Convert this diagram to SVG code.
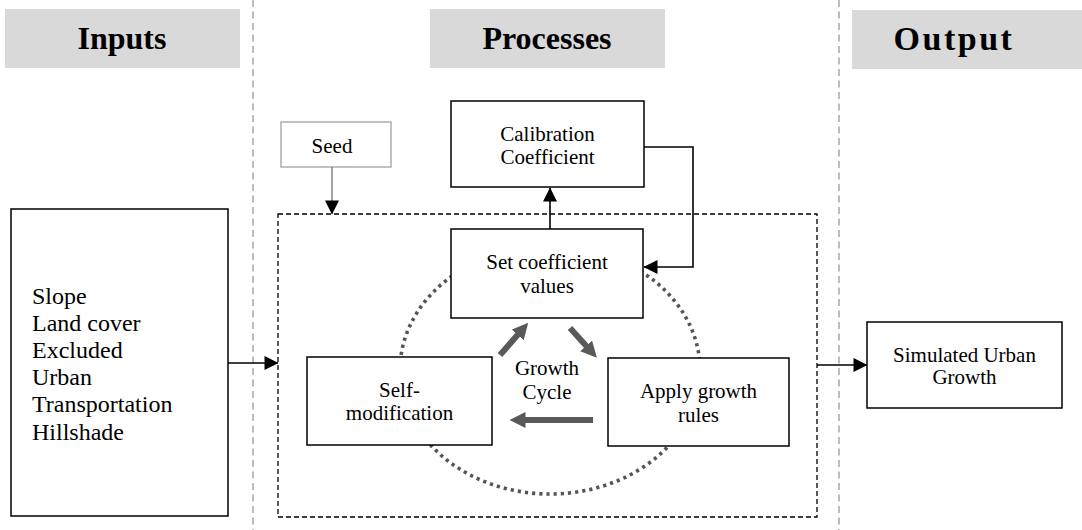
<svg xmlns="http://www.w3.org/2000/svg" width="1082" height="530" viewBox="0 0 1082 530">
<style>
.hdr{fill:#d9d9d9;stroke:none}
.htxt{font-family:"Liberation Serif","Times New Roman",serif;font-weight:bold;font-size:32px;fill:#000;text-anchor:middle}
.box{fill:#fff;stroke:#000;stroke-width:1.5}
.txt{font-family:"Liberation Serif","Times New Roman",serif;font-size:21px;fill:#000;text-anchor:middle}
.itxt{font-family:"Liberation Serif","Times New Roman",serif;font-size:24px;fill:#000}
.sep{stroke:#a6a6a6;stroke-width:1.5;stroke-dasharray:7 4.5;fill:none}
.conn{stroke:#000;stroke-width:1.6;fill:none;marker-end:url(#ah)}
.fat{stroke:#595959;stroke-width:6;fill:none;marker-end:url(#gh)}
</style>
<defs>
<marker id="ah" viewBox="0 0 14 14" markerUnits="userSpaceOnUse" markerWidth="15" markerHeight="14" refX="13.5" refY="7" orient="auto">
<path d="M0,0 L14,7 L0,14 z" fill="#000"/>
</marker>
<marker id="gh" viewBox="0 0 16 16" markerUnits="userSpaceOnUse" markerWidth="16" markerHeight="16" refX="0.5" refY="8" orient="auto">
<path d="M0,0 L16,8 L0,16 z" fill="#595959"/>
</marker>
</defs>
<rect width="1082" height="530" fill="#fff"/>
<g id="headers">
<g id="hdr-inputs"><rect class="hdr" x="5" y="9" width="235" height="59"/><text class="htxt" x="122" y="49">Inputs</text></g>
<g id="hdr-processes"><rect class="hdr" x="430" y="9" width="235" height="59"/><text class="htxt" x="547" y="49">Processes</text></g>
<g id="hdr-output"><rect class="hdr" x="852" y="10" width="230" height="59"/><text class="htxt" x="954" y="50" style="font-size:34px;letter-spacing:2.5px">Output</text></g>
</g>
<g id="separators">
<line class="sep" x1="253" y1="0" x2="253" y2="530"/>
<line class="sep" x1="839" y1="0" x2="839" y2="530"/>
</g>
<g id="process-frame">
<rect x="278" y="214" width="539" height="303" fill="none" stroke="#000" stroke-width="1.3" stroke-dasharray="5 3"/>
</g>
<g id="cycle">
<ellipse cx="550" cy="370" rx="150" ry="124" fill="none" stroke="#555" stroke-width="3.6" stroke-dasharray="3.2 4"/>
</g>
<g id="inputs">
<rect class="box" x="11" y="209" width="217" height="307"/>
<text class="itxt" x="32" y="304">Slope</text>
<text class="itxt" x="32" y="331">Land cover</text>
<text class="itxt" x="32" y="358">Excluded</text>
<text class="itxt" x="32" y="385">Urban</text>
<text class="itxt" x="32" y="412">Transportation</text>
<text class="itxt" x="32" y="440">Hillshade</text>
</g>
<g id="seed">
<rect x="281" y="122" width="110" height="45" fill="#fff" stroke="#a0a0a0" stroke-width="1.3"/>
<text class="txt" x="332" y="153">Seed</text>
</g>
<g id="calibration">
<rect class="box" x="451" y="101" width="193" height="86"/>
<text class="txt" x="547.5" y="141">Calibration</text>
<text class="txt" x="547.5" y="164">Coefficient</text>
</g>
<g id="set-coefficient">
<rect class="box" x="451" y="229" width="192" height="89"/>
<text class="txt" x="547" y="269">Set coefficient</text>
<text class="txt" x="547" y="293">values</text>
</g>
<g id="self-modification">
<rect class="box" x="307" y="357" width="185" height="88"/>
<text class="txt" x="399.5" y="397">Self-</text>
<text class="txt" x="399.5" y="420">modification</text>
</g>
<g id="apply-growth">
<rect class="box" x="608" y="358" width="181" height="88"/>
<text class="txt" x="698.5" y="398">Apply growth</text>
<text class="txt" x="698.5" y="422">rules</text>
</g>
<g id="growth-cycle-label">
<text class="txt" x="547" y="375">Growth</text>
<text class="txt" x="547" y="399">Cycle</text>
</g>
<g id="simulated">
<rect class="box" x="867" y="322" width="195" height="86"/>
<text class="txt" x="964.5" y="362">Simulated Urban</text>
<text class="txt" x="964.5" y="384">Growth</text>
</g>
<g id="connectors">
<line x1="332" y1="167" x2="332" y2="214" stroke="#666" stroke-width="1.2" marker-end="url(#ah)"/>
<line class="conn" x1="550" y1="229" x2="550" y2="188"/>
<polyline class="conn" points="644,147 693,147 693,267 644,267"/>
<line class="conn" x1="228" y1="363" x2="278" y2="363"/>
<line class="conn" x1="817" y1="365" x2="867" y2="365"/>
<line class="fat" x1="500" y1="355" x2="518" y2="334.5"/>
<line class="fat" x1="570" y1="328" x2="586.5" y2="346.3"/>
<line class="fat" x1="593" y1="420" x2="525" y2="420"/>
</g>
</svg>
